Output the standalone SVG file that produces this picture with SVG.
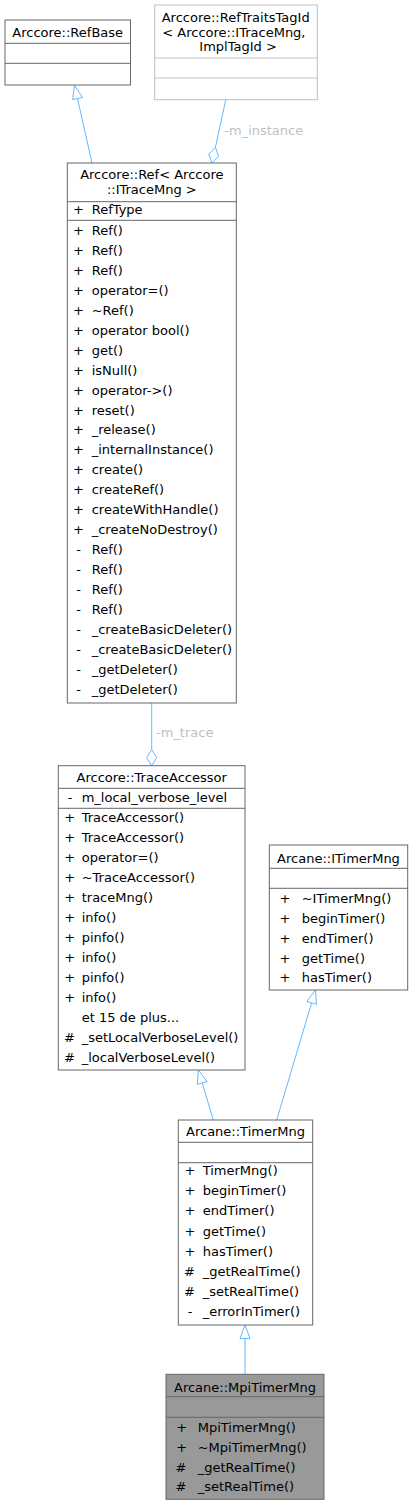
<svg xmlns="http://www.w3.org/2000/svg" width="413" height="1505" viewBox="0 0 413 1505">
<style>
text{font-family:"DejaVu Sans","Liberation Sans",sans-serif;font-size:13px;fill:#000}
.box{fill:#fff;stroke:#666;stroke-width:1}
.gbox{fill:#fff;stroke:#bfbfbf;stroke-width:1}
.mbox{fill:#999;stroke:#666;stroke-width:1}
.sep{stroke:#666;stroke-width:1}
.gsep{stroke:#bfbfbf;stroke-width:1}
.c{text-anchor:middle}
.edge{stroke:#63b8ff;stroke-width:1;fill:none}
.head{stroke:#63b8ff;stroke-width:1;fill:#fff}
.lbl{fill:#bfbfbf}
</style>
<rect width="413" height="1505" fill="#fff"/>
<g id="connectors">
<line class="edge" x1="92" y1="163" x2="77.5" y2="98.5"/>
<polygon class="head" points="74.5,85.3 72.6,99.6 82.4,97.4"/>
<line class="edge" x1="225.7" y1="100" x2="215.4" y2="147.4"/>
<polygon class="head" points="212,163 208.8,154.1 215.4,147.4 218.6,156.3"/>
<text class="lbl" x="224.3" y="135">-m_instance</text>
<line class="edge" x1="151.7" y1="703" x2="151.7" y2="749.7"/>
<polygon class="head" points="151.7,765.7 146.7,757.7 151.7,749.7 156.7,757.7"/>
<text class="lbl" x="156" y="736.6">-m_trace</text>
<line class="edge" x1="213.3" y1="1120" x2="202.2" y2="1082.9"/>
<polygon class="head" points="198.3,1070 197.4,1084.3 207,1081.5"/>
<line class="edge" x1="276.7" y1="1120" x2="311.6" y2="1002.9"/>
<polygon class="head" points="315.5,990 316.4,1004.4 306.8,1001.5"/>
<line class="edge" x1="245" y1="1374.3" x2="245" y2="1338.5"/>
<polygon class="head" points="245,1325 240,1338.5 250,1338.5"/>
</g>
<g id="RefBase">
<rect class="box" x="5" y="20" width="125.5" height="65"/>
<line class="sep" x1="5" y1="43.3" x2="130.5" y2="43.3"/>
<line class="sep" x1="5" y1="63.3" x2="130.5" y2="63.3"/>
<text class="c" x="67.7" y="36.6">Arccore::RefBase</text>
</g>
<g id="RefTraitsTagId">
<rect class="gbox" x="154.7" y="5" width="162.6" height="94.7"/>
<line class="gsep" x1="154.7" y1="58" x2="317.3" y2="58"/>
<line class="gsep" x1="154.7" y1="78" x2="317.3" y2="78"/>
<text x="161.7" y="21.6">Arccore::RefTraitsTagId</text>
<text x="162.3" y="36.6">&lt; Arccore::ITraceMng,</text>
<text x="199.3" y="51.3">ImplTagId &gt;</text>
</g>
<g id="Ref">
<rect class="box" x="67.3" y="163" width="169" height="540"/>
<text class="c" x="151.8" y="179.3">Arccore::Ref&lt; Arccore</text>
<text class="c" x="151.8" y="193.5">::ITraceMng &gt;</text>
<line class="sep" x1="67.3" y1="201.7" x2="236.3" y2="201.7"/>
<text class="c" x="78.5" y="214.3">+</text><text x="91.7" y="214.3">RefType</text>
<line class="sep" x1="67.3" y1="220.3" x2="236.3" y2="220.3"/>
<text class="c" x="78.5" y="235">+</text><text x="91.7" y="235">Ref()</text>
<text class="c" x="78.5" y="254.9">+</text><text x="91.7" y="254.9">Ref()</text>
<text class="c" x="78.5" y="274.9">+</text><text x="91.7" y="274.9">Ref()</text>
<text class="c" x="78.5" y="294.8">+</text><text x="91.7" y="294.8">operator=()</text>
<text class="c" x="78.5" y="314.8">+</text><text x="91.7" y="314.8">~Ref()</text>
<text class="c" x="78.5" y="334.7">+</text><text x="91.7" y="334.7">operator bool()</text>
<text class="c" x="78.5" y="354.6">+</text><text x="91.7" y="354.6">get()</text>
<text class="c" x="78.5" y="374.6">+</text><text x="91.7" y="374.6">isNull()</text>
<text class="c" x="78.5" y="394.5">+</text><text x="91.7" y="394.5">operator-&gt;()</text>
<text class="c" x="78.5" y="414.5">+</text><text x="91.7" y="414.5">reset()</text>
<text class="c" x="78.5" y="434.4">+</text><text x="91.7" y="434.4">_release()</text>
<text class="c" x="78.5" y="454.3">+</text><text x="91.7" y="454.3">_internalInstance()</text>
<text class="c" x="78.5" y="474.3">+</text><text x="91.7" y="474.3">create()</text>
<text class="c" x="78.5" y="494.2">+</text><text x="91.7" y="494.2">createRef()</text>
<text class="c" x="78.5" y="514.2">+</text><text x="91.7" y="514.2">createWithHandle()</text>
<text class="c" x="78.5" y="534.1">+</text><text x="91.7" y="534.1">_createNoDestroy()</text>
<text class="c" x="78.5" y="554">-</text><text x="91.7" y="554">Ref()</text>
<text class="c" x="78.5" y="574">-</text><text x="91.7" y="574">Ref()</text>
<text class="c" x="78.5" y="593.9">-</text><text x="91.7" y="593.9">Ref()</text>
<text class="c" x="78.5" y="613.9">-</text><text x="91.7" y="613.9">Ref()</text>
<text class="c" x="78.5" y="633.8">-</text><text x="91.7" y="633.8">_createBasicDeleter()</text>
<text class="c" x="78.5" y="653.7">-</text><text x="91.7" y="653.7">_createBasicDeleter()</text>
<text class="c" x="78.5" y="673.7">-</text><text x="91.7" y="673.7">_getDeleter()</text>
<text class="c" x="78.5" y="693.6">-</text><text x="91.7" y="693.6">_getDeleter()</text>
</g>
<g id="TraceAccessor">
<rect class="box" x="58.3" y="765.7" width="186.7" height="304.3"/>
<text class="c" x="151.7" y="781.6">Arccore::TraceAccessor</text>
<line class="sep" x1="58.3" y1="788.3" x2="245" y2="788.3"/>
<text class="c" x="70" y="802">-</text><text x="81.7" y="802">m_local_verbose_level</text>
<line class="sep" x1="58.3" y1="808.3" x2="245" y2="808.3"/>
<text class="c" x="69.7" y="822">+</text><text x="81.7" y="822">TraceAccessor()</text>
<text class="c" x="69.7" y="841.6">+</text><text x="81.7" y="841.6">TraceAccessor()</text>
<text class="c" x="69.7" y="861.6">+</text><text x="81.7" y="861.6">operator=()</text>
<text class="c" x="69.7" y="881.6">+</text><text x="81.7" y="881.6">~TraceAccessor()</text>
<text class="c" x="69.7" y="901.6">+</text><text x="81.7" y="901.6">traceMng()</text>
<text class="c" x="69.7" y="921.6">+</text><text x="81.7" y="921.6">info()</text>
<text class="c" x="69.7" y="941.6">+</text><text x="81.7" y="941.6">pinfo()</text>
<text class="c" x="69.7" y="961.6">+</text><text x="81.7" y="961.6">info()</text>
<text class="c" x="69.7" y="981.6">+</text><text x="81.7" y="981.6">pinfo()</text>
<text class="c" x="69.7" y="1001.6">+</text><text x="81.7" y="1001.6">info()</text>
<text x="81.7" y="1021.6">et 15 de plus...</text>
<text class="c" x="69.5" y="1041.6">#</text><text x="81.7" y="1041.6">_setLocalVerboseLevel()</text>
<text class="c" x="69.5" y="1061.6">#</text><text x="81.7" y="1061.6">_localVerboseLevel()</text>
</g>
<g id="ITimerMng">
<rect class="box" x="269.3" y="845" width="138.4" height="145"/>
<text class="c" x="338.5" y="862.6">Arcane::ITimerMng</text>
<line class="sep" x1="269.3" y1="868.3" x2="407.7" y2="868.3"/>
<line class="sep" x1="269.3" y1="888.3" x2="407.7" y2="888.3"/>
<text class="c" x="285" y="902.6">+</text><text x="301.7" y="902.6">~ITimerMng()</text>
<text class="c" x="285" y="922.6">+</text><text x="301.7" y="922.6">beginTimer()</text>
<text class="c" x="285" y="942.6">+</text><text x="301.7" y="942.6">endTimer()</text>
<text class="c" x="285" y="962.6">+</text><text x="301.7" y="962.6">getTime()</text>
<text class="c" x="285" y="982.2">+</text><text x="301.7" y="982.2">hasTimer()</text>
</g>
<g id="TimerMng">
<rect class="box" x="178.3" y="1120" width="134.4" height="205"/>
<text class="c" x="245.5" y="1136">Arcane::TimerMng</text>
<line class="sep" x1="178.3" y1="1142.3" x2="312.7" y2="1142.3"/>
<line class="sep" x1="178.3" y1="1162.7" x2="312.7" y2="1162.7"/>
<text class="c" x="190" y="1175">+</text><text x="202.7" y="1175">TimerMng()</text>
<text class="c" x="190" y="1195.2">+</text><text x="202.7" y="1195.2">beginTimer()</text>
<text class="c" x="190" y="1215.3">+</text><text x="202.7" y="1215.3">endTimer()</text>
<text class="c" x="190" y="1235.5">+</text><text x="202.7" y="1235.5">getTime()</text>
<text class="c" x="190" y="1255.8">+</text><text x="202.7" y="1255.8">hasTimer()</text>
<text class="c" x="189.5" y="1276">#</text><text x="202.7" y="1276">_getRealTime()</text>
<text class="c" x="189.5" y="1296">#</text><text x="202.7" y="1296">_setRealTime()</text>
<text class="c" x="190" y="1315.8">-</text><text x="202.7" y="1315.8">_errorInTimer()</text>
</g>
<g id="MpiTimerMng">
<rect class="mbox" x="166" y="1374.3" width="158" height="125"/>
<text class="c" x="245" y="1391.6">Arcane::MpiTimerMng</text>
<line class="sep" x1="166" y1="1396.7" x2="324" y2="1396.7"/>
<line class="sep" x1="166" y1="1417.3" x2="324" y2="1417.3"/>
<text class="c" x="181.7" y="1431.6">+</text><text x="197.7" y="1431.6">MpiTimerMng()</text>
<text class="c" x="181.7" y="1451.6">+</text><text x="197.7" y="1451.6">~MpiTimerMng()</text>
<text class="c" x="181" y="1471.6">#</text><text x="197.7" y="1471.6">_getRealTime()</text>
<text class="c" x="181" y="1491">#</text><text x="197.7" y="1491">_setRealTime()</text>
</g>
</svg>
